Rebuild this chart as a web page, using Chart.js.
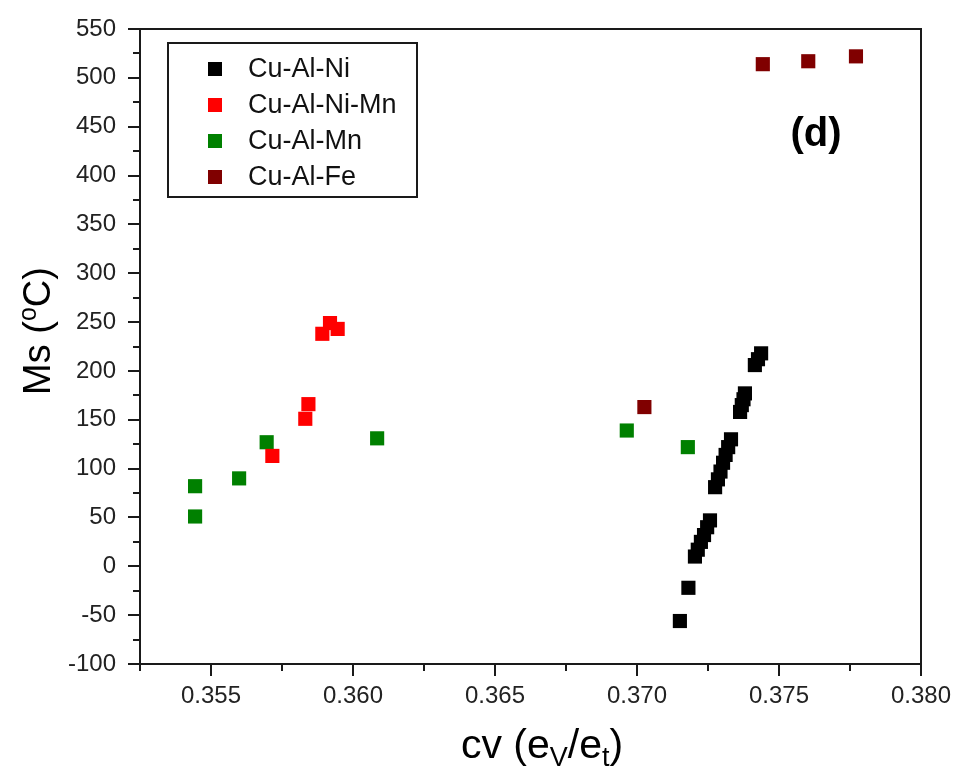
<!DOCTYPE html>
<html lang="en">
<head>
    <meta charset="UTF-8">
    <title>Ms vs cv</title>
    <script src="https://cdn.jsdelivr.net/npm/chart.js"></script>
    <style>
        body {
            margin: 0;
            background-color: #ffffff;
        }
        #msChart {
            display: block;
        }
    </style>
</head>
<body>

<canvas id="msChart" width="956" height="771"></canvas>

<script>
    // Series: cv (eV/et) and Ms (oC)
    const seriesNames = ['Cu-Al-Ni', 'Cu-Al-Ni-Mn', 'Cu-Al-Mn', 'Cu-Al-Fe'];
    const seriesColors = ['#000000', '#ff0000', '#008000', '#800000'];

    const cuAlNiX = [0.37151, 0.37181,
        0.37204, 0.37214, 0.37225, 0.37236, 0.37247, 0.37257,
        0.37275, 0.37285, 0.37294, 0.37303, 0.37312, 0.37321, 0.37331,
        0.37363, 0.37369, 0.37375, 0.37380,
        0.37415, 0.37426, 0.37437];
    const cuAlNiY = [-56, -22,
        10, 17, 25, 32, 40, 47,
        81, 89, 97, 106, 114, 122, 130,
        158, 165, 171, 177,
        206, 212, 218];

    const cuAlNiMnX = [0.35716, 0.35832, 0.35843, 0.35892, 0.35919, 0.35946];
    const cuAlNiMnY = [113, 151, 166, 238, 249, 243];

    const cuAlMnX = [0.35444, 0.35444, 0.35599, 0.35696, 0.36085, 0.36964, 0.37179];
    const cuAlMnY = [82, 51, 90, 127, 131, 139, 122];

    const cuAlFeX = [0.37026, 0.37443, 0.37603, 0.37771];
    const cuAlFeY = [163, 514, 517, 522];

    const xMin = 0.3525, xMax = 0.380, xStep = 0.0025, xMajor = 0.005;
    const yMin = -100, yMax = 550, yStep = 25, yMajor = 50;

    const FONT = "Arial, 'Liberation Sans', sans-serif";

    function isMajor(v, major) {
        const r = v / major;
        return Math.abs(r - Math.round(r)) < 1e-6;
    }

    function toPoints(xs, ys) {
        return xs.map((x, i) => ({ x: x, y: ys[i] }));
    }

    const seriesData = [
        toPoints(cuAlNiX, cuAlNiY),
        toPoints(cuAlNiMnX, cuAlNiMnY),
        toPoints(cuAlMnX, cuAlMnY),
        toPoints(cuAlFeX, cuAlFeY)
    ];

    // Frame, tick marks, legend box and axis titles
    const decorations = {
        id: 'decorations',
        afterDraw(chart) {
            const ctx = chart.ctx;
            const a = chart.chartArea;
            const xs = chart.scales.x, ys = chart.scales.y;
            ctx.save();
            ctx.strokeStyle = '#1a1a1a';
            ctx.lineWidth = 2;
            ctx.strokeRect(a.left, a.top, a.right - a.left, a.bottom - a.top);

            // ticks
            ctx.beginPath();
            ys.ticks.forEach(t => {
                const p = Math.round(ys.getPixelForValue(t.value));
                const len = isMajor(t.value, yMajor) ? 12 : 7;
                ctx.moveTo(a.left, p);
                ctx.lineTo(a.left - len, p);
            });
            xs.ticks.forEach(t => {
                const p = Math.round(xs.getPixelForValue(t.value));
                const len = isMajor(t.value, xMajor) ? 12 : 7;
                ctx.moveTo(p, a.bottom);
                ctx.lineTo(p, a.bottom + len);
            });
            ctx.stroke();

            // legend
            ctx.lineWidth = 2;
            ctx.strokeRect(168, 43, 249, 154);
            ctx.font = '27px ' + FONT;
            ctx.textBaseline = 'middle';
            ctx.textAlign = 'left';
            seriesNames.forEach((name, i) => {
                const cy = 69 + i * 36;
                ctx.fillStyle = seriesColors[i];
                ctx.fillRect(208, cy - 7, 14, 14);
                ctx.fillStyle = '#111111';
                ctx.fillText(name, 248, cy + 1);
            });

            // panel label
            ctx.font = 'bold 40px ' + FONT;
            ctx.textAlign = 'center';
            ctx.fillStyle = '#000000';
            ctx.fillText('(d)', 816, 135);

            // x title: cv (eV/et)
            ctx.textAlign = 'left';
            ctx.textBaseline = 'alphabetic';
            const big = '41px ' + FONT, small = '27px ' + FONT;
            const xParts = [['cv (e', big, 0], ['V', small, 8], ['/e', big, 0], ['t', small, 8], [')', big, 0]];
            let w = 0;
            xParts.forEach(p => { ctx.font = p[1]; w += ctx.measureText(p[0]).width; });
            let x = 542 - w / 2;
            xParts.forEach(p => {
                ctx.font = p[1];
                ctx.fillText(p[0], x, 758 + p[2]);
                x += ctx.measureText(p[0]).width;
            });

            // y title: Ms (oC)
            const ybig = '38px ' + FONT, ysmall = '25px ' + FONT;
            ctx.translate(50, 331);
            ctx.rotate(-Math.PI / 2);
            const yParts = [['Ms (', ybig, 0], ['o', ysmall, -14], ['C)', ybig, 0]];
            w = 0;
            yParts.forEach(p => { ctx.font = p[1]; w += ctx.measureText(p[0]).width; });
            x = -w / 2;
            yParts.forEach(p => {
                ctx.font = p[1];
                ctx.fillText(p[0], x, p[2]);
                x += ctx.measureText(p[0]).width;
            });
            ctx.restore();
        }
    };

    const ctx = document.getElementById('msChart').getContext('2d');
    new Chart(ctx, {
        type: 'scatter',
        data: {
            datasets: seriesNames.map((name, i) => ({
                label: name,
                data: seriesData[i],
                backgroundColor: seriesColors[i],
                borderWidth: 0,
                pointStyle: 'rect',
                pointRadius: 10,
                pointHoverRadius: 10
            }))
        },
        options: {
            responsive: false,
            animation: false,
            layout: {
                padding: { top: 29, right: 35, left: 0, bottom: 0 }
            },
            plugins: {
                legend: { display: false },
                tooltip: { enabled: false }
            },
            scales: {
                x: {
                    type: 'linear',
                    min: xMin,
                    max: xMax,
                    grid: { display: false, drawTicks: false },
                    border: { display: false },
                    afterFit: s => {
                        s.height = 107;
                        s.paddingLeft = 0;
                        s.paddingRight = 0;
                    },
                    ticks: {
                        stepSize: xStep,
                        autoSkip: false,
                        maxRotation: 0,
                        padding: 18,
                        color: '#222222',
                        font: { family: FONT, size: 24 },
                        callback: v => isMajor(v, xMajor) ? v.toFixed(3) : ''
                    }
                },
                y: {
                    type: 'linear',
                    min: yMin,
                    max: yMax,
                    grid: { display: false, drawTicks: false },
                    border: { display: false },
                    afterFit: s => {
                        s.width = 140;
                        s.paddingTop = 0;
                        s.paddingBottom = 0;
                    },
                    ticks: {
                        stepSize: yStep,
                        autoSkip: false,
                        padding: 24,
                        color: '#222222',
                        font: { family: FONT, size: 24 },
                        callback: v => isMajor(v, yMajor) ? String(v) : ''
                    }
                }
            }
        },
        plugins: [decorations]
    });
</script>

</body>
</html>
